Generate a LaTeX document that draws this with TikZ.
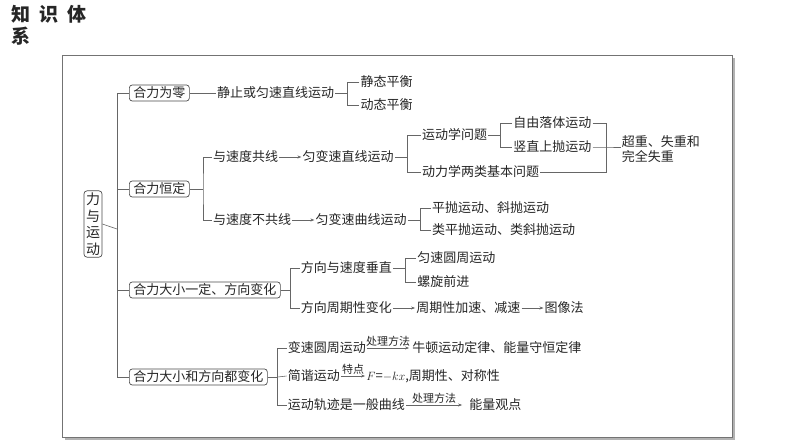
\documentclass[tikz,border=0pt]{standalone}
\usepackage{fontspec}
\setmainfont{Noto Sans CJK SC}
\usetikzlibrary{arrows.meta,calc}
\begin{document}
\begin{tikzpicture}[x=1pt,y=-1pt,
  every node/.style={font=\fontsize{13}{15}\selectfont,inner sep=1pt,text=black!85},
  t/.style={anchor=west},
  box/.style={draw=black!70,rounded corners=3pt,fill=white,inner xsep=4pt,inner ysep=2pt,line width=0.7pt},
  ln/.style={draw=black!60,line width=0.6pt},
  ar/.style={ln,-{Stealth[length=4pt,width=3pt]}},
  lab/.style={font=\fontsize{11}{12}\selectfont,above,inner sep=1pt}]
\useasboundingbox (0,0) rectangle (794,447);
\node[anchor=north west,font=\fontsize{19}{22}\bfseries\selectfont,align=left,inner sep=0] (title) at (11,5) {知\hspace{9pt}识\hspace{9pt}体\\系};
\fill[black!30] (65,58) rectangle (735,440);
\node[draw=black!55,fill=white,minimum width=670,minimum height=382,anchor=north west,inner sep=0] (frame) at (62,55) {};
% root
\node[box,align=center,inner xsep=2pt,font=\fontsize{14}{16.5}\selectfont] (root) at (93,224) {力\\与\\运\\动};
\coordinate (tk) at (117,229);
\coordinate (tt) at (117,93);
\coordinate (tb) at (117,377);
\draw[ln] (root.east) -- (tk);
\draw[ln] (tt) -- (tb);
% branch boxes
\node[box,anchor=west] (b1) at (129,93) {合力为零};
\node[box,anchor=west] (b2) at (129,189) {合力恒定};
\node[box,anchor=west] (b3) at (129,290) {合力大小一定、方向变化};
\node[box,anchor=west] (b4) at (129,377) {合力大小和方向都变化};
\foreach \b in {b1,b2,b3,b4} \draw[ln] (\b.west) -- (tt |- \b.west);
% b1
\node[t] (a1) at (216,93) {静止或匀速直线运动};
\coordinate (k1) at ($(a1.east)+(12,0)$);
\node[t] (a11) at ($(k1)+(12,-11)$) {静态平衡};
\node[t] (a12) at ($(k1)+(12,12)$) {动态平衡};
\draw[ln] (b1.east) -- (a1.west);
\draw[ln] (a1.east) -- (k1);
\draw[ln] (a11.west) -| (k1) |- (a12.west);
% b2
\node[t] (c1) at (212,157) {与速度共线};
\node[t] (c2) at (212,220) {与速度不共线};
\coordinate (k2) at (203,189);
\draw[ln] (b2.east) -- (k2);
\draw[ln] (c1.west) -| (k2) |- (c2.west);
\node[t] (c11) at ($(c1.east)+(22,0)$) {匀变速直线运动};
\draw[ar] (c1.east) -- (c11.west);
\coordinate (k3) at ($(c11.east)+(12,0)$);
\node[t] (d1) at ($(k3)+(14,-22)$) {运动学问题};
\node[t] (d2) at ($(k3)+(14,15)$) {动力学两类基本问题};
\draw[ln] (c11.east) -- (k3);
\draw[ln] (d1.west) -| (k3) |- (d2.west);
\coordinate (k4) at ($(d1.east)+(12,0)$);
\node[t] (e1) at ($(k4)+(12,-12)$) {自由落体运动};
\node[t] (e2) at ($(k4)+(12,12)$) {竖直上抛运动};
\draw[ln] (d1.east) -- (k4);
\draw[ln] (e1.west) -| (k4) |- (e2.west);
\coordinate (k5) at ($(e1.east)+(14,24)$);
\node[t,align=left] (f1) at ($(k5)+(14,2)$) {超重、失重和\\完全失重};
\draw[ln] (e1.east) -| (k5) |- (d2.east);
\draw[ln] (e2.east) -- (k5) -- (f1.west |- k5);
\node[t] (c21) at ($(c2.east)+(22,0)$) {匀变速曲线运动};
\draw[ar] (c2.east) -- (c21.west);
\coordinate (k6) at ($(c21.east)+(12,0)$);
\node[t] (g1) at ($(k6)+(11,-12)$) {平抛运动、斜抛运动};
\node[t] (g2) at ($(k6)+(11,10)$) {类平抛运动、类斜抛运动};
\draw[ln] (c21.east) -- (k6);
\draw[ln] (g1.west) -| (k6) |- (g2.west);
% b3
\coordinate (k7) at ($(b3.east)+(10,0)$);
\node[t] (h1) at ($(k7)+(9,-22)$) {方向与速度垂直};
\node[t] (h2) at ($(k7)+(9,18)$) {方向周期性变化};
\draw[ln] (b3.east) -- (k7);
\draw[ln] (h1.west) -| (k7) |- (h2.west);
\coordinate (k8) at ($(h1.east)+(12,0)$);
\node[t] (i1) at ($(k8)+(11,-10)$) {匀速圆周运动};
\node[t] (i2) at ($(k8)+(11,14)$) {螺旋前进};
\draw[ln] (h1.east) -- (k8);
\draw[ln] (i1.west) -| (k8) |- (i2.west);
\node[t] (j1) at ($(h2.east)+(22,0)$) {周期性加速、减速};
\node[t] (j2) at ($(j1.east)+(22,0)$) {图像法};
\draw[ar] (h2.east) -- (j1.west);
\draw[ar] (j1.east) -- (j2.west);
% b4
\coordinate (k9) at ($(b4.east)+(10,0)$);
\node[t] (m1) at ($(k9)+(9,-29)$) {变速圆周运动};
\node[t] (m2) at ($(k9)+(9,-1)$) {简谐运动};
\node[t] (m3) at ($(k9)+(9,28)$) {运动轨迹是一般曲线};
\draw[ln] (b4.east) -- (k9);
\draw[ln] (m1.west) -| (k9) |- (m3.west);
\draw[ln] (m2.west) -- (k9);
\node[t] (n1) at ($(m1.east)+(44,0)$) {牛顿运动定律、能量守恒定律};
\node[t] (n2) at ($(m2.east)+(24,0)$) {$F$=$-kx$,周期性、对称性};
\node[t] (n3) at ($(m3.east)+(62,0)$) {能量观点};
\draw[ar] (m1.east) -- node[lab] {处理方法} ($(n1.west)+(-2,0)$);
\draw[ar] (m2.east) -- node[lab] {特点} (n2.west);
\draw[ar] (m3.east) -- node[lab] {处理方法} ($(n3.west)+(-6,0)$);
\end{tikzpicture}
\end{document}
